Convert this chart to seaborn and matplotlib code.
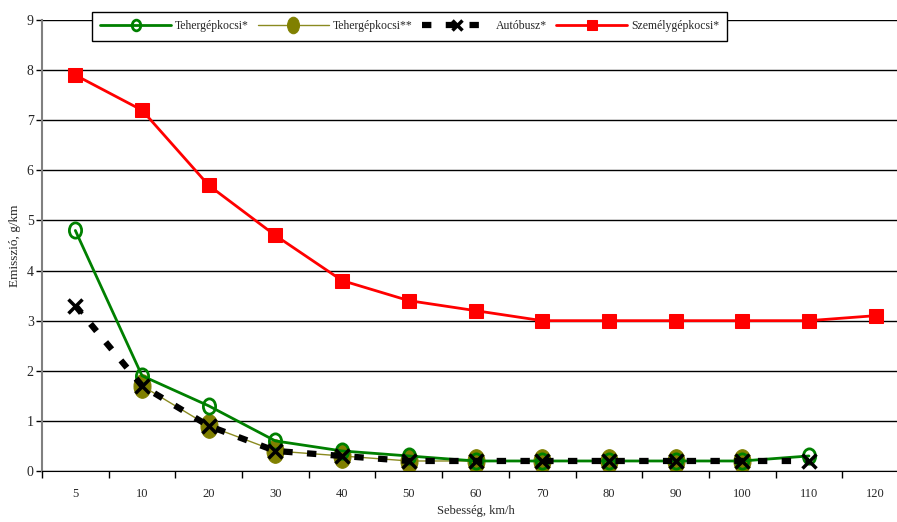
import numpy as np
import pandas as pd
import matplotlib
matplotlib.use('Agg')
import matplotlib.pyplot as plt
from matplotlib.markers import MarkerStyle
from matplotlib.transforms import Affine2D
import seaborn as sns

sns.set_style('white')
plt.rcParams['font.family'] = ['Liberation Serif', 'DejaVu Serif']

# adatok
sebesseg = ['5', '10', '20', '30', '40', '50', '60', '70', '80', '90', '100', '110', '120']
teher1 = [4.8, 1.9, 1.3, 0.6, 0.4, 0.3, 0.2, 0.2, 0.2, 0.2, 0.2, 0.3, np.nan]
teher2 = [np.nan, 1.7, 0.9, 0.4, 0.3, 0.2, 0.2, 0.2, 0.2, 0.2, 0.2, np.nan, np.nan]
autobusz = [3.3, 1.7, 0.9, 0.4, 0.3, 0.2, 0.2, 0.2, 0.2, 0.2, 0.2, 0.2, np.nan]
szemely = [7.9, 7.2, 5.7, 4.7, 3.8, 3.4, 3.2, 3.0, 3.0, 3.0, 3.0, 3.0, 3.1]

df = pd.DataFrame({'pos': np.arange(len(sebesseg)), 'seb': sebesseg,
                   't1': teher1, 't2': teher2, 'bus': autobusz, 'szg': szemely})

fig = plt.figure(figsize=(8.97, 5.22), dpi=100)
ax = fig.add_axes([42 / 897, 51 / 522, 867 / 897, 451 / 522])

ellipse = MarkerStyle('o', transform=Affine2D().scale(0.72, 1.0))
ellipse2 = MarkerStyle('o', transform=Affine2D().scale(0.8, 1.0))

sns.lineplot(data=df.dropna(subset=['t2']), x='pos', y='t2', ax=ax, color='#8a8a20', lw=1,
             marker=ellipse, markersize=17, markerfacecolor='#808000', markeredgecolor='#808000',
             label='Tehergépkocsi**', zorder=2)
sns.lineplot(data=df.dropna(subset=['t1']), x='pos', y='t1', ax=ax, color='#008000', lw=2,
             marker=ellipse2, markersize=11, markerfacecolor='none', markeredgecolor='#008000',
             markeredgewidth=2, label='Tehergépkocsi*', zorder=3)
sns.lineplot(data=df.dropna(subset=['bus']), x='pos', y='bus', ax=ax, color='black', lw=4.5,
             linestyle=(0, (1.5, 2.3)), dash_capstyle='butt', marker='x', markersize=10,
             markeredgewidth=2.5, markeredgecolor='black', label='Autóbusz*', zorder=4)
sns.lineplot(data=df, x='pos', y='szg', ax=ax, color='#ff0000', lw=2,
             marker='s', markersize=10, markeredgecolor='#ff0000', label='Személygépkocsi*', zorder=5)

ax.set_ylim(0, 9)
ax.set_xlim(-0.5, len(sebesseg) - 0.5)
ax.set_yticks(range(10))
ax.yaxis.grid(True, color='black', lw=1)
ax.set_axisbelow(True)
ax.set_xticks(df['pos'])
ax.set_xticklabels(sebesseg)
ax.set_xticks(np.arange(-0.5, len(sebesseg), 1), minor=True)
ax.tick_params(axis='x', which='major', length=0, pad=12, labelsize=9)
ax.tick_params(axis='x', which='minor', length=5, width=1, direction='out', color='black', bottom=True)
ax.tick_params(axis='y', length=4, width=1, direction='out', color='black', left=True, labelsize=10, pad=2)

for s in ['top', 'right']:
    ax.spines[s].set_visible(False)
ax.spines['left'].set_color('#808080')
ax.spines['left'].set_linewidth(1.5)
ax.spines['bottom'].set_color('black')

ax.set_xlabel('Sebesség, km/h', fontsize=9, labelpad=4)
ax.set_ylabel('Emisszió, g/km', fontsize=9.5, labelpad=4)

h, l = ax.get_legend_handles_labels()
order = [1, 0, 2, 3]
ax.get_legend().remove()
leg = fig.legend([h[i] for i in order], [l[i] for i in order], loc='upper left',
                 bbox_to_anchor=(92 / 897, 1 - 12 / 522), ncol=4, fontsize=8.5, handlelength=6,
                 columnspacing=0.8, handletextpad=0.3, borderpad=0.7, borderaxespad=0,
                 markerscale=0.7, fancybox=False, framealpha=1, edgecolor='black')
leg.get_frame().set_linewidth(1)

fig.savefig('out.png', dpi=100)
